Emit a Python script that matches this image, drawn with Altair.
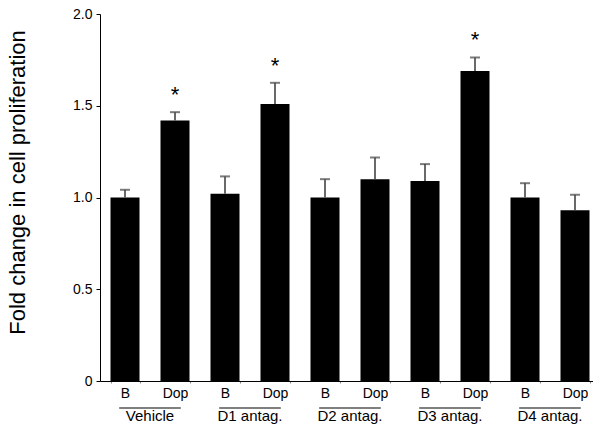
import altair as alt
import pandas as pd

groups = ["Vehicle", "D1 antag.", "D2 antag.", "D3 antag.", "D4 antag."]
conditions = ["B", "Dop"]
values = [1.00, 1.42, 1.02, 1.51, 1.00, 1.10, 1.09, 1.69, 1.00, 0.93]
errors = [0.042, 0.045, 0.095, 0.115, 0.10, 0.118, 0.092, 0.073, 0.078, 0.085]
significant = [False, True, False, True, False, False, False, True, False, False]
y_ticks = [0, 0.5, 1.0, 1.5, 2.0]

cats = [f"{g}|{c}" for g in groups for c in conditions]
df = pd.DataFrame({
    "cat": cats,
    "value": values,
    "top": [v + e for v, e in zip(values, errors)],
    "star": ["*" if s else "" for s in significant],
})
gdf = pd.DataFrame({
    "group": groups,
    "first": [f"{g}|B" for g in groups],
    "last": [f"{g}|Dop" for g in groups],
})

FONT = "Liberation Sans"
xscale = alt.Scale(domain=cats, paddingInner=0.42, paddingOuter=0.21, range=[0, 500])
yscale = alt.Scale(domain=[0, 2])

xaxis = alt.Axis(
    title=None, labelExpr="split(datum.label, '|')[1]", labelAngle=0,
    labelFont=FONT, labelFontSize=14, labelColor="black",
    tickBand="extent", tickSize=2, tickColor="#888", labelPadding=3,
    domainColor="black", domainWidth=1,
)
yaxis = alt.Axis(
    values=y_ticks, labelExpr="datum.value == 0 ? '0' : format(datum.value, '.1f')",
    title="Fold change in cell proliferation", titleFont=FONT, titleFontSize=22,
    titleFontWeight="normal", titleColor="black", titleAngle=270,
    titleX=-76, titleY=168, titleAlign="center", titleBaseline="alphabetic",
    labelFont=FONT, labelFontSize=14, labelColor="black", labelPadding=4,
    tickSize=4, tickColor="black", domainColor="black", grid=False,
)

base = alt.Chart(df)
bars = base.mark_bar(color="black").encode(
    x=alt.X("cat:N", scale=xscale, axis=xaxis),
    y=alt.Y("value:Q", scale=yscale, axis=yaxis),
)
err = base.mark_rule(color="#444", strokeWidth=1.6).encode(
    x=alt.X("cat:N", scale=xscale),
    y="value:Q",
    y2="top:Q",
)
caps = base.mark_tick(color="#444", thickness=2, size=10, orient="horizontal").encode(
    x=alt.X("cat:N", scale=xscale),
    y="top:Q",
)
stars = base.mark_text(font=FONT, fontSize=22, baseline="alphabetic", dy=-10, color="black").encode(
    x=alt.X("cat:N", scale=xscale),
    y="top:Q",
    text="star:N",
)
gbase = alt.Chart(gdf)
glines = gbase.mark_rule(color="black", strokeWidth=1).encode(
    x=alt.X("first:N", scale=xscale, bandPosition=0.3),
    x2=alt.X2("last:N", bandPosition=0.7),
    y=alt.value(394),
)
gtext = gbase.mark_text(font=FONT, fontSize=15, baseline="alphabetic", dx=25, color="black").encode(
    x=alt.X("first:N", scale=xscale, bandPosition=0.5),
    y=alt.value(407),
    text="group:N",
)

chart = alt.layer(bars, err, caps, stars, glines, gtext).properties(
    width=493, height=367,
    autosize=alt.AutoSizeParams(type="none"),
    padding={"left": 92, "top": 6, "right": 0, "bottom": 44},
).configure_view(stroke=None)

chart.save("out.html", embed_options={"renderer": "svg", "actions": False})
